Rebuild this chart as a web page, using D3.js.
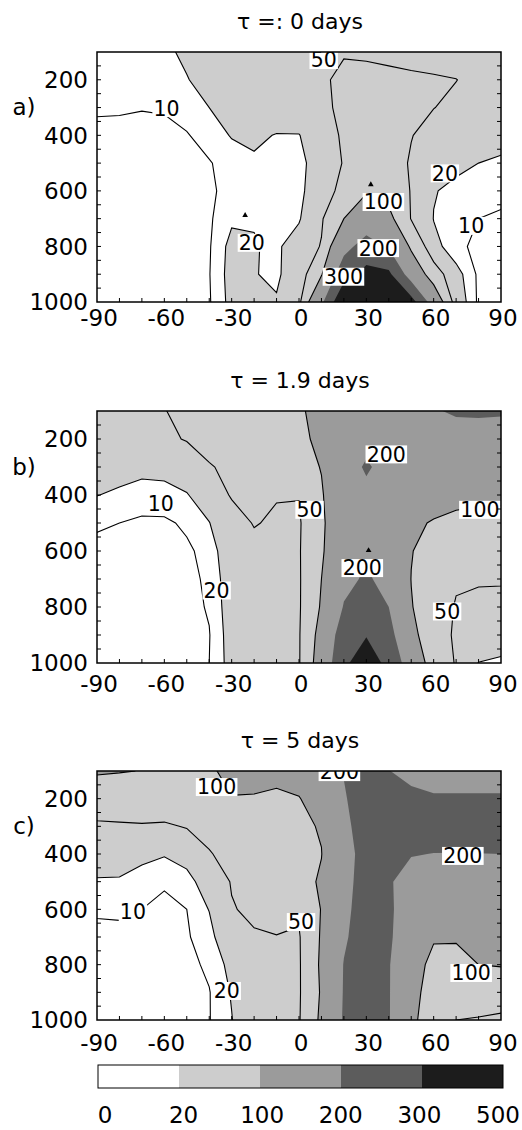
<!DOCTYPE html>
<html lang="en">
<head>
<meta charset="UTF-8">
<title>Contour panels</title>
<script src="https://d3js.org/d3.v7.min.js"></script>
<style>
  body { margin: 0; background: #fff; }
  svg { display: block; font-family: 'DejaVu Sans', sans-serif; }
</style>
</head>
<body>
<svg id="chart" width="522" height="1130"></svg>
<script>
// grid axes
const lats = d3.range(-90, 91, 10);
const pressures = d3.range(100, 1001, 100);
const fillLevels = [20, 100, 200, 300];
const lineLevels = [10, 20, 50, 100];
const barLabels = ["0", "20", "100", "200", "300", "500"];
const shades = ["#ffffff", "#cdcdcd", "#9b9b9b", "#5c5c5c", "#1c1c1c"];

// rows: 100 hPa (top) .. 1000 hPa; columns: -90 .. 90
const gridA = [
  [14, 15, 16, 18, 22, 30, 35, 38, 40, 44, 48, 48, 45, 42, 40, 38, 36, 34, 32],
  [15, 16, 17, 18, 19.5, 24, 30, 34, 38, 42, 46, 56, 60, 58, 55, 53, 50.5, 42, 36],
  [11, 10.8, 10.3, 10.5, 13, 20, 26, 30, 34, 40, 45, 55, 62, 60, 55, 50.5, 44, 40, 36],
  [8, 8, 8, 8.5, 9.5, 13, 21, 24, 19, 19, 40, 53, 65, 62, 51, 40, 32, 28, 25],
  [7, 7, 7, 7.5, 8, 9.5, 13, 17, 15, 15, 30, 52, 70, 65, 47, 35, 24, 20, 18],
  [6, 6, 6, 6.5, 7, 9, 12, 14, 14, 15, 35, 60, 95, 80, 48, 21, 16, 14, 12],
  [6, 6, 6, 6, 6.5, 8.5, 18, 19, 14, 18, 46, 100, 140, 115, 48, 19.5, 13, 10, 9],
  [5, 5, 5.5, 6, 7, 9, 24, 21, 17, 30, 52, 170, 240, 190, 90, 25, 12, 8, 7],
  [5, 5, 5.5, 6, 7, 9.5, 25, 20.5, 18, 28, 95, 260, 330, 320, 150, 70, 25, 8, 6],
  [5, 5, 5.5, 6, 7, 9, 24, 22, 21, 40, 180, 400, 450, 420, 340, 150, 30, 8, 6]
];
const gridB = [
  [30, 35, 42, 49, 58, 65, 70, 75, 80, 90, 125, 150, 165, 170, 170, 190, 215, 220, 215],
  [28, 32, 38, 44, 52, 60, 66, 72, 78, 88, 112, 150, 175, 165, 155, 150, 145, 140, 140],
  [24, 25, 23, 23, 30, 48, 56, 62, 70, 80, 102, 160, 210, 170, 150, 140, 130, 125, 125],
  [20.3, 18, 16, 17, 19, 30, 53, 60, 52, 51, 95, 150, 180, 160, 140, 130, 112, 106, 105],
  [11, 10, 8, 8, 12, 19.5, 35, 52, 45, 46, 90, 150, 175, 160, 112, 95, 90, 92, 92],
  [8, 7, 6, 6.5, 8, 14, 30, 40, 44, 47, 92, 160, 195, 165, 102, 80, 75, 72, 70],
  [6, 5.5, 5, 5.5, 7, 12, 28, 38, 42, 46, 100, 180, 210, 175, 99, 70, 53, 54, 54],
  [5, 5, 5, 5, 6.5, 11, 27, 36, 42, 46, 105, 205, 260, 200, 103, 65, 48, 40, 38],
  [5, 5, 5, 5, 6, 9.5, 26, 35, 42, 47, 120, 250, 295, 230, 115, 68, 45, 35, 30],
  [5, 5, 5, 5, 6, 10, 25, 35, 42, 47, 130, 280, 360, 270, 150, 70, 48, 19.5, 17]
];
const gridC = [
  [105, 102, 99, 90, 85, 92, 115, 125, 120, 130, 160, 205, 240, 205, 140, 140, 140, 140, 140],
  [70, 72, 75, 72, 75, 80, 98, 95, 88, 97, 135, 190, 260, 260, 250, 215, 215, 215, 215],
  [45, 46, 47, 46, 52, 60, 70, 78, 85, 92, 103, 180, 240, 260, 255, 250, 245, 240, 240],
  [32, 30, 24, 21, 26, 48, 60, 70, 82, 90, 99, 160, 240, 230, 205, 198, 198, 199, 200],
  [18, 18, 14, 11, 15, 28, 52, 62, 75, 85, 105, 170, 240, 210, 160, 150, 145, 140, 140],
  [10.5, 11, 10, 8, 10, 20.5, 48, 56, 62, 55, 102, 180, 240, 215, 150, 130, 125, 120, 120],
  [9, 8.5, 7, 6, 9, 15, 35, 47, 49, 47, 105, 190, 240, 215, 130, 105, 103, 110, 110],
  [7, 6.5, 6, 5.5, 7, 12, 24, 38, 42, 46, 108, 203, 240, 205, 125, 85, 90, 100, 103],
  [6, 6, 5.5, 5, 6, 9.5, 21, 35, 40, 46, 105, 205, 240, 205, 115, 80, 75, 75, 65],
  [5, 5, 5, 5, 6, 9.5, 19.5, 33, 40, 47, 110, 208, 240, 205, 110, 75, 50, 47, 45]
];

// contour labels: [text, lat, pressure]
const labelsA = [["10", -59, 302], ["50", 11, 129], ["20", 65, 537], ["100", 37.6, 640],
  ["10", 76.7, 726], ["20", -21, 787], ["200", 35.3, 806], ["300", 19.8, 909]];
const labelsB = [["200", 38.9, 255], ["10", -61.6, 431], ["50", 4.7, 453], ["100", 80.6, 453],
  ["200", 28.2, 661], ["20", -36.7, 741], ["50", 66, 816]];
const labelsC = [["100", -36.7, 158], ["200", 18, 104], ["200", 73, 407], ["10", -74, 610],
  ["50", 0.9, 646], ["100", 76.7, 830], ["20", -32.2, 895]];
// small local-maximum carets: [lat, pressure]
const marksA = [[32, 577], [-24, 688]];
const marksB = [[31, 598]];
const marksC = [];

const titles = ["\u03c4 =: 0 days", "\u03c4 = 1.9 days", "\u03c4 = 5 days"];
const tags = ["a)", "b)", "c)"];

const panels = [
  { grid: gridA, labels: labelsA, marks: marksA, top: 52, bottom: 302, titleY: 29, tickY: 318 },
  { grid: gridB, labels: labelsB, marks: marksB, top: 411, bottom: 663, titleY: 388, tickY: 684 },
  { grid: gridC, labels: labelsC, marks: marksC, top: 771, bottom: 1020, titleY: 748, tickY: 1043 }
];

const svg = d3.select("#chart");
const x = d3.scaleLinear().domain([-90, 90]).range([97, 501]);
// grid index -> data coordinate (cell centres sit at i + 0.5)
const gx = d3.scaleLinear().domain([0.5, lats.length - 0.5]).range([lats[0], lats[lats.length - 1]]);
const gy = d3.scaleLinear().domain([0.5, pressures.length - 0.5]).range([pressures[0], pressures[pressures.length - 1]]);
const contours = d3.contours().size([lats.length, pressures.length]);
const caret = d3.symbol().type(d3.symbolTriangle).size(14);

panels.forEach(function(P, i) {
  const y = d3.scaleLinear().domain([1000, 100]).range([P.bottom, P.top]);
  const proj = d3.geoTransform({
    point: function(px, py) { this.stream.point(x(gx(px)), y(gy(py))); }
  });
  const path = d3.geoPath(proj);
  const values = P.grid.flat();

  svg.append("clipPath").attr("id", "clip" + i)
    .append("rect")
    .attr("x", x(-90)).attr("y", P.top)
    .attr("width", x(90) - x(-90)).attr("height", P.bottom - P.top);

  const g = svg.append("g").attr("clip-path", "url(#clip" + i + ")");

  g.append("rect")
    .attr("x", x(-90)).attr("y", P.top)
    .attr("width", x(90) - x(-90)).attr("height", P.bottom - P.top)
    .attr("fill", shades[0]);

  // shaded bands
  g.selectAll("path.band")
    .data(contours.thresholds(fillLevels)(values))
    .enter().append("path")
    .attr("class", "band")
    .attr("d", path)
    .attr("fill", function(d) { return shades[fillLevels.indexOf(d.value) + 1]; });

  // contour lines
  g.selectAll("path.iso")
    .data(contours.thresholds(lineLevels)(values))
    .enter().append("path")
    .attr("class", "iso")
    .attr("d", path)
    .attr("fill", "none")
    .attr("stroke", "#000")
    .attr("stroke-width", 1.1);

  g.selectAll("path.mark")
    .data(P.marks)
    .enter().append("path")
    .attr("class", "mark")
    .attr("d", caret)
    .attr("transform", function(d) { return "translate(" + x(d[0]) + "," + y(d[1]) + ")"; })
    .attr("fill", "#000");

  // labels with white boxes
  const lab = g.selectAll("g.lab")
    .data(P.labels)
    .enter().append("g")
    .attr("class", "lab")
    .attr("transform", function(d) { return "translate(" + x(d[1]) + "," + y(d[2]) + ")"; });
  lab.append("rect")
    .attr("x", function(d) { return -d[0].length * 6.6 - 1; })
    .attr("y", -9)
    .attr("width", function(d) { return d[0].length * 13.2 + 2; })
    .attr("height", 18)
    .attr("fill", "#fff");
  lab.append("text")
    .attr("text-anchor", "middle")
    .attr("dy", "0.36em")
    .style("font-size", "20.5px")
    .text(function(d) { return d[0]; });

  // ticks
  const yTicks = d3.range(150, 1000, 50);
  svg.append("g").selectAll("line")
    .data(yTicks).enter().append("line")
    .attr("x1", x(-90)).attr("x2", x(-90) + 4)
    .attr("y1", y).attr("y2", y)
    .attr("stroke", "#000");
  svg.append("g").selectAll("line")
    .data(yTicks).enter().append("line")
    .attr("x1", x(90)).attr("x2", x(90) - 4)
    .attr("y1", y).attr("y2", y)
    .attr("stroke", "#000");
  svg.append("g").selectAll("line")
    .data(d3.range(-80, 90, 10)).enter().append("line")
    .attr("x1", x).attr("x2", x)
    .attr("y1", P.bottom).attr("y2", P.bottom - 4)
    .attr("stroke", "#000");

  // frame
  svg.append("rect")
    .attr("x", x(-90)).attr("y", P.top)
    .attr("width", x(90) - x(-90)).attr("height", P.bottom - P.top)
    .attr("fill", "none").attr("stroke", "#000").attr("stroke-width", 1.5);

  // tick labels
  svg.append("g").selectAll("text")
    .data([200, 400, 600, 800, 1000]).enter().append("text")
    .attr("x", 88).attr("y", y).attr("dy", "0.36em")
    .attr("text-anchor", "end")
    .style("font-size", "23px")
    .text(function(d) { return d; });
  svg.append("g").selectAll("text")
    .data([-90, -60, -30, 0, 30, 60, 90]).enter().append("text")
    .attr("x", function(d) { return x(d) + 2; }).attr("y", P.tickY).attr("dy", "0.36em")
    .attr("text-anchor", "middle")
    .style("font-size", "23px")
    .text(function(d) { return String(d); });

  svg.append("text")
    .attr("x", 24).attr("y", (P.top + P.bottom) / 2 - 70).attr("dy", "0.36em")
    .attr("text-anchor", "middle")
    .style("font-size", "23px")
    .text(tags[i]);

  svg.append("text")
    .attr("x", 300).attr("y", P.titleY)
    .attr("text-anchor", "middle")
    .style("font-size", "22px")
    .text(titles[i]);
});

// colour bar
const bar = d3.scaleBand().domain(d3.range(shades.length)).range([98, 503]);
svg.append("g").selectAll("rect")
  .data(shades).enter().append("rect")
  .attr("x", function(d, i) { return bar(i); })
  .attr("y", 1065)
  .attr("width", bar.bandwidth())
  .attr("height", 23)
  .attr("fill", function(d) { return d; });
svg.append("rect")
  .attr("x", 98).attr("y", 1065).attr("width", 405).attr("height", 23)
  .attr("fill", "none").attr("stroke", "#000").attr("stroke-width", 1);
const barTick = d3.scalePoint().domain(barLabels).range([105, 498]);
svg.append("g").selectAll("text")
  .data(barLabels).enter().append("text")
  .attr("x", function(d) { return barTick(d); })
  .attr("y", 1115).attr("dy", "0.36em")
  .attr("text-anchor", function(d, i) { return i === barLabels.length - 1 ? "end" : "middle"; })
  .attr("dx", function(d, i) { return i === barLabels.length - 1 ? 22 : 0; })
  .style("font-size", "23px")
  .text(function(d) { return d; });
</script>
</body>
</html>
